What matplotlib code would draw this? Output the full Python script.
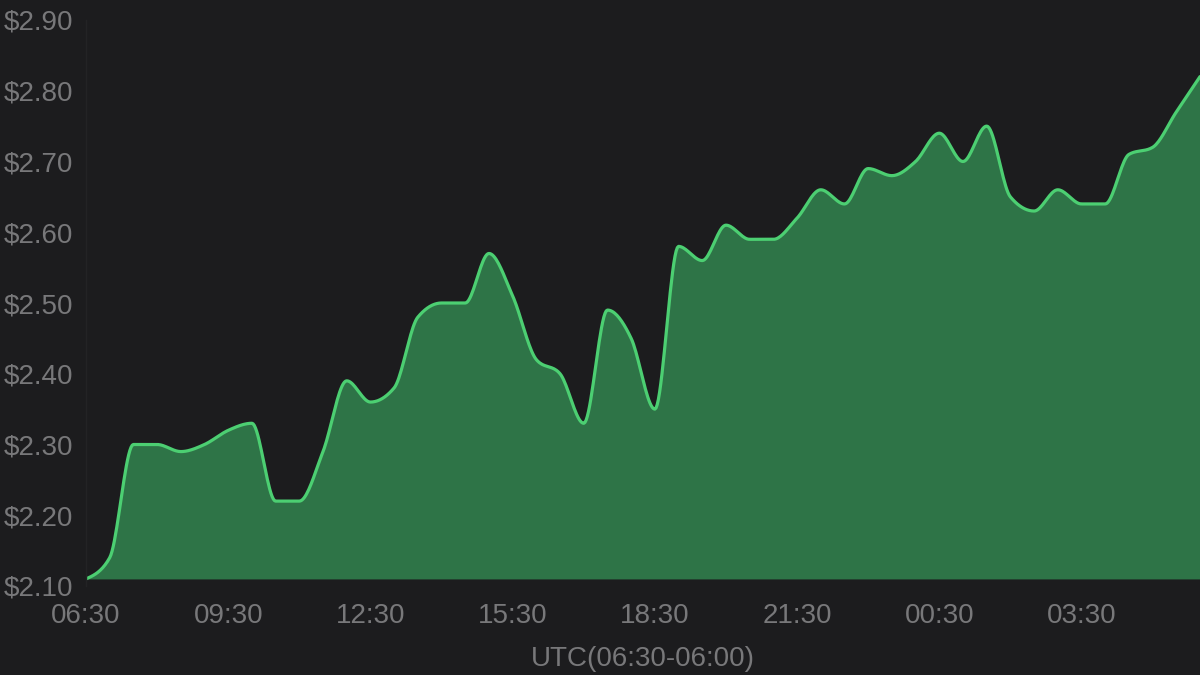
import matplotlib
matplotlib.use("Agg")
import matplotlib.pyplot as plt
import numpy as np

# --- data (half-hourly price, 06:30 -> 06:00 next day) ---
hours = np.arange(48) * 0.5
prices = [2.11, 2.14, 2.30, 2.30, 2.29, 2.30, 2.32, 2.33, 2.22, 2.22,
          2.29, 2.39, 2.36, 2.38, 2.48, 2.50, 2.50, 2.57, 2.51, 2.42,
          2.40, 2.33, 2.49, 2.45, 2.35, 2.58, 2.56, 2.61, 2.59, 2.59,
          2.62, 2.66, 2.64, 2.69, 2.68, 2.70, 2.74, 2.70, 2.75, 2.65,
          2.63, 2.66, 2.64, 2.64, 2.71, 2.72, 2.77, 2.82]
tick_hours = [0, 3, 6, 9, 12, 15, 18, 21]
tick_labels = ["06:30", "09:30", "12:30", "15:30", "18:30", "21:30", "00:30", "03:30"]
y_ticks = [2.10, 2.20, 2.30, 2.40, 2.50, 2.60, 2.70, 2.80, 2.90]

BG = "#1c1c1e"
LINE = "#4ccf72"
FILL = "#2e7447"
TEXT = "#78787a"


def monotone_x(x, y, n=20):
    # monotone cubic like d3.curveMonotoneX
    x = np.asarray(x, float)
    y = np.asarray(y, float)
    h = np.diff(x)
    s = np.diff(y) / h
    t = np.zeros_like(y)
    for i in range(1, len(y) - 1):
        p = (s[i - 1] * h[i] + s[i] * h[i - 1]) / (h[i - 1] + h[i])
        t[i] = (np.sign(s[i - 1]) + np.sign(s[i])) * min(abs(s[i - 1]), abs(s[i]), 0.5 * abs(p))
    t[0] = (3 * s[0] - t[1]) / 2
    t[-1] = (3 * s[-1] - t[-2]) / 2
    xs, ys = [], []
    for i in range(len(x) - 1):
        u = np.linspace(0, 1, n, endpoint=False)
        h00 = 2 * u**3 - 3 * u**2 + 1
        h10 = u**3 - 2 * u**2 + u
        h01 = -2 * u**3 + 3 * u**2
        h11 = u**3 - u**2
        xs.append(x[i] + u * h[i])
        ys.append(h00 * y[i] + h10 * h[i] * t[i] + h01 * y[i + 1] + h11 * h[i] * t[i + 1])
    xs.append([x[-1]])
    ys.append([y[-1]])
    return np.concatenate(xs), np.concatenate(ys)


plt.rcParams['font.family'] = ['Liberation Sans', 'DejaVu Sans']

fig = plt.figure(figsize=(12, 6.75), dpi=100, facecolor=BG)
ax = fig.add_axes([86 / 1200, (675 - 586) / 675, 1 - 86 / 1200, (586 - 20) / 675])
ax.set_facecolor(BG)

sx, sy = monotone_x(hours, prices)
ax.fill_between(sx, sy, min(prices), color=FILL, linewidth=0)
ax.plot(sx, sy, color=LINE, linewidth=2.3, solid_capstyle='round')

ax.set_xlim(0, 23.5)
ax.set_ylim(2.10, 2.90)
ax.set_xticks(tick_hours)
ax.set_xticklabels(tick_labels)
ax.set_yticks(y_ticks)
ax.set_yticklabels([f"${v:.2f}" for v in y_ticks])
ax.tick_params(axis='both', length=0, labelsize=20, colors=TEXT)
ax.tick_params(axis='y', pad=9.4)
ax.tick_params(axis='x', pad=12.5)

for side in ['top', 'right', 'bottom']:
    ax.spines[side].set_visible(False)
ax.spines['left'].set_color("#232325")
ax.spines['left'].set_linewidth(1)

ax.set_xlabel("UTC(06:30-06:00)", fontsize=20, color=TEXT, labelpad=12)

fig.savefig("out.png", dpi=100, facecolor=BG)
